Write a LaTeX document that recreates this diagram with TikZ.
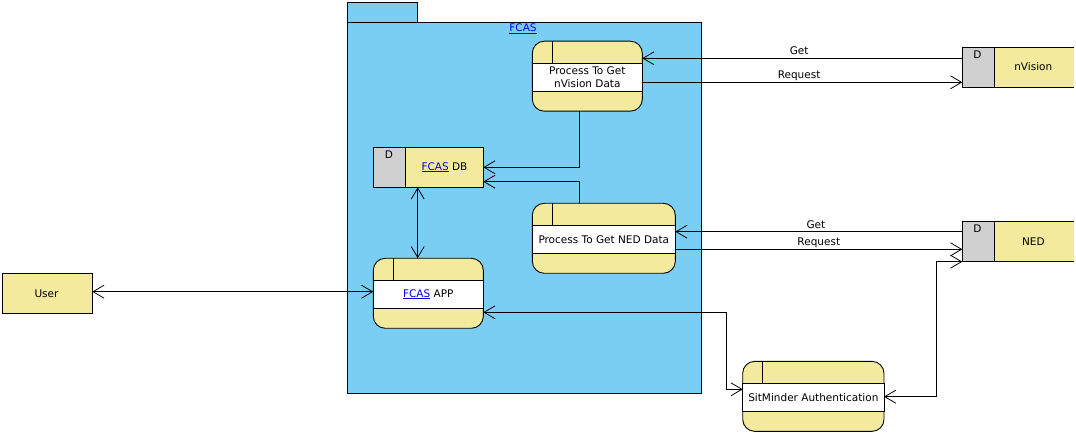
\documentclass[tikz,border=0pt]{standalone}
\usepackage{fontspec}
\setmainfont{DejaVu Sans}
\usetikzlibrary{arrows.meta}

\definecolor{pkgblue}{RGB}{122,206,244}
\definecolor{procyellow}{RGB}{243,234,157}
\definecolor{storegray}{RGB}{208,208,208}
\definecolor{linkblue}{RGB}{0,0,238}

% hyperlinked model element name
\newcommand\lnk[1]{\textcolor{linkblue}{\underline{#1}}}

% DFD process: yellow rounded box with a white name band and an id cell
% #1 name, #2 centre x, #3 centre y, #4 width, #5 text
\newcommand\dfdprocess[5]{%
  \node[procbox, minimum width=#4pt] (#1) at (#2,#3) {};
  \draw[fill=white] (#1.north west) ++(0,22) rectangle ++(#4,28);
  \draw (#1.north west) ++(20,0) -- ++(0,22);
  \node[txt, align=center] (#1-name) at ([yshift=-1pt]#1.center) {#5};
}

\begin{document}
\begin{tikzpicture}[x=1pt, y=-1pt, line width=0.9pt,
    font=\fontsize{10.5}{13.3}\selectfont,
    txt/.style={inner sep=0pt, outer sep=0pt, text=black},
    procbox/.style={draw=black, fill=procyellow, rounded corners=12pt,
      minimum height=70pt, inner sep=0pt, outer sep=0pt},
    storebox/.style={fill=procyellow, minimum height=40pt, inner sep=0pt, outer sep=0pt},
    flow/.style={draw=black, line width=0.8pt, -{Straight Barb[length=11pt,width=13pt]}},
    flowboth/.style={draw=black, line width=0.8pt,
      {Straight Barb[length=11pt,width=13pt]}-{Straight Barb[length=11pt,width=13pt]}},
    flowlbl/.style={txt, anchor=base, yshift=3.6pt},
  ]
  \useasboundingbox (0,0) rectangle (1076,435);

  % package FCAS
  \draw[fill=pkgblue] (347,2) rectangle (417,22);
  \node[draw=black, fill=pkgblue, minimum width=354pt, minimum height=371pt,
        inner sep=0pt, outer sep=0pt] (fcas) at (524,207.5) {};
  \node[txt] (fcas-name) at (523,29) {\lnk{FCAS}};

  % processes
  \dfdprocess{pnv}{587.3}{76.2}{110}{Process To Get\\nVision Data}
  \dfdprocess{pned}{603.8}{238.3}{143}{Process To Get NED Data}
  \dfdprocess{app}{428.3}{293.3}{110}{\lnk{FCAS} APP}
  \dfdprocess{sit}{813.35}{396.35}{141.3}{SitMinder Authentication}

  % data store FCAS DB
  \node[storebox, draw=black, minimum width=110pt] (db) at (428.3,167.3) {};
  \filldraw[fill=storegray] (db.north west) rectangle ++(32.4,40);
  \node[txt] (db-id) at (388.8,154.5) {D};
  \node[txt] (db-name) at (444.5,167.3) {\lnk{FCAS} DB};

  % external data store nVision
  \node[storebox, minimum width=112pt] (nvs) at (1018.3,67.3) {};
  \draw (nvs.north east) -- (nvs.north west) -- (nvs.south west) -- (nvs.south east);
  \filldraw[fill=storegray] (nvs.north west) rectangle ++(32,40);
  \node[txt] (nvs-id) at (977.5,54.2) {D};
  \node[txt] (nvs-name) at (1033.3,67) {nVision};

  % external data store NED
  \node[storebox, minimum width=112pt] (neds) at (1018.3,241.5) {};
  \draw (neds.north east) -- (neds.north west) -- (neds.south west) -- (neds.south east);
  \filldraw[fill=storegray] (neds.north west) rectangle ++(32,39.6);
  \node[txt] (neds-id) at (977.5,228.5) {D};
  \node[txt] (neds-name) at (1033.3,241.3) {NED};

  % user
  \node[draw=black, fill=procyellow, minimum width=89.6pt, minimum height=40pt,
        inner sep=0pt, outer sep=0pt] (user) at (47.5,293.3) {};
  \node[txt] (user-name) at (46.5,293.3) {User};

  % flows between nVision and its process
  \draw[flow] (nvs.west |- 0,58.3) -- (pnv.east |- 0,58.3)
    node[flowlbl, pos=0.51] {Get};
  \draw[flow] (pnv.east |- 0,82.3) -- (nvs.west |- 0,82.3)
    node[flowlbl, pos=0.49] {Request};

  % flows between NED and its process
  \draw[flow] (neds.west |- 0,231.7) -- (pned.east |- 0,231.7)
    node[flowlbl, pos=0.51] {Get};
  \draw[flow] (pned.east |- 0,249.3) -- (neds.west |- 0,249.3)
    node[flowlbl, pos=0.5] {Request};

  % processes write into FCAS DB
  \draw[flow] (pnv.south -| 579.3,0) |- (db.east |- 0,167.3);
  \draw[flow] (pned.north -| 579.3,0) |- (db.east |- 0,181.7);

  % FCAS APP links
  \draw[flowboth] (db.south -| 417.7,0) -- (app.north -| 417.7,0);
  \draw[flowboth] (user.east |- 0,291.7) -- (app.west |- 0,291.7);
  \draw[flowboth] (app.east |- 0,312.3) -- (726,312.3) -- (726,389.3)
    -- (sit.west |- 0,389.3);

  % authentication against NED
  \draw[flowboth] (sit.east |- 0,396.7) -- (936.7,396.7) -- (936.7,261.7)
    -- (neds.west |- 0,261.7);
\end{tikzpicture}
\end{document}
